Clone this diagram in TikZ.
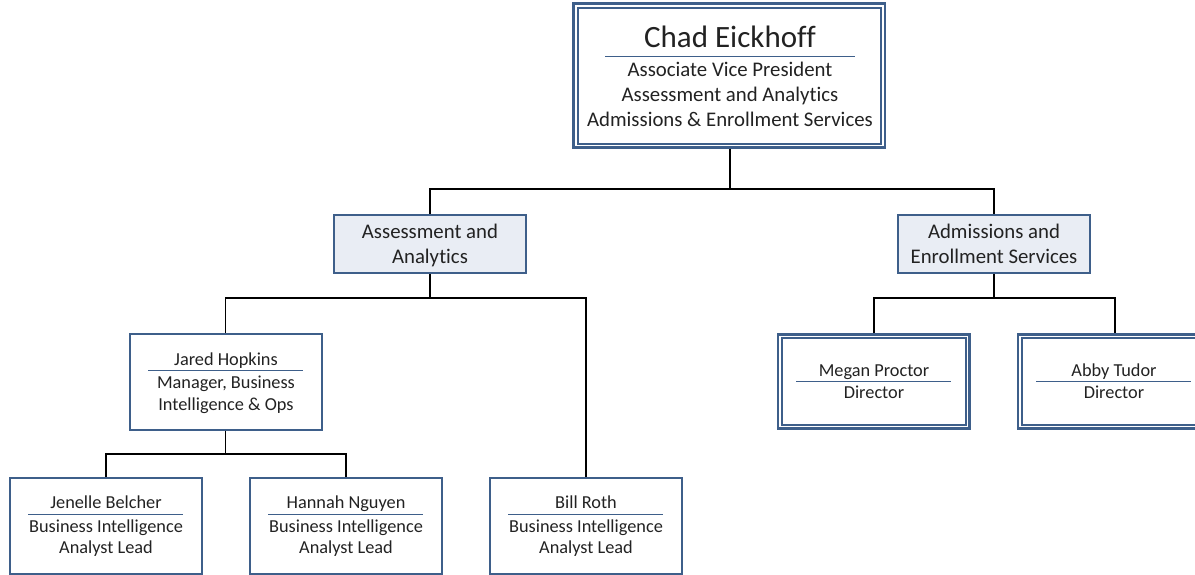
\documentclass[tikz,border=0pt]{standalone}
\usepackage{fontspec}
\setmainfont[Ligatures=NoCommon]{Carlito}
\definecolor{bord}{HTML}{3E5F8A}
\definecolor{boxfill}{HTML}{E9EDF4}
\definecolor{txt}{HTML}{222222}
\begin{document}
\begin{tikzpicture}[x=1pt,y=-1pt,
  sbox/.style={draw=bord,line width=2pt,rectangle,inner sep=0pt,minimum width=192pt,minimum height=96pt},
  obox/.style={draw=bord,line width=2.6pt,rectangle,inner sep=0pt},
  ibox/.style={draw=bord,line width=2pt},
  unitbox/.style={draw=bord,fill=boxfill,line width=2pt,rectangle,inner sep=0pt,minimum width=192pt,minimum height=58pt},
  conn/.style={draw=black,line width=1.6pt},
  uline/.style={draw=bord,line width=1.5pt},
  big/.style={font=\fontsize{31}{34}\selectfont,text=txt,inner sep=0pt,anchor=base},
  mid/.style={font=\fontsize{20.8}{24}\selectfont,text=txt,inner sep=0pt,anchor=base},
  sml/.style={font=\fontsize{18.3}{21}\selectfont,text=txt,inner sep=0pt,anchor=base}
]
\useasboundingbox (0,0) rectangle (1195,574);
% boxes
\node[obox,minimum width=311.5pt,minimum height=144pt] (top) at (729.25,75.5) {};
\draw[ibox] ([shift={(5.5,5.5)}]top.north west) rectangle ([shift={(-5,-4.5)}]top.south east);
\node[unitbox] (aa) at (430,244) {};
\node[unitbox] (aes) at (994,244) {};
\node[sbox] (jh) at (225.5,381.5) {};
\node[obox,minimum width=191.5pt,minimum height=94pt] (mp) at (873.75,381.5) {};
\draw[ibox] ([shift={(5,5)}]mp.north west) rectangle ([shift={(-5,-4.5)}]mp.south east);
\node[obox,minimum width=191.5pt,minimum height=94pt] (at) at (1113.75,381.5) {};
\draw[ibox] ([shift={(5,5)}]at.north west) rectangle ([shift={(-5,-4.5)}]at.south east);
\node[sbox] (jb) at (106,525.5) {};
\node[sbox] (hn) at (346,525.5) {};
\node[sbox] (br) at (586,525.5) {};
% top text
\node[big] (t1) at (730,47) {Chad Eickhoff};
\draw[uline] (605,56.5) coordinate (u0a) -- (855,56.5) coordinate (u0b);
\node[mid] (t2) at (730,76) {Associate Vice President};
\node[mid] (t3) at (730,101) {Assessment and Analytics};
\node[mid] (t4) at (730,126) {Admissions \& Enrollment Services};
% units
\node[mid] (aa1) at (430,238) {Assessment and};
\node[mid] (aa2) at (430,263) {Analytics};
\node[mid] (ae1) at (994,238) {Admissions and};
\node[mid] (ae2) at (994,263) {Enrollment Services};
% Jared
\node[sml] (jh1) at (226,365) {Jared Hopkins};
\draw[uline] (148,370.5) coordinate (u1a) -- (303,370.5) coordinate (u1b);
\node[sml] (jh2) at (226,388) {Manager, Business};
\node[sml] (jh3) at (226,410.5) {Intelligence \& Ops};
% Megan, Abby
\node[sml] (mp1) at (874,376.5) {Megan Proctor};
\draw[uline] (796,381.5) coordinate (u2a) -- (951,381.5) coordinate (u2b);
\node[sml] (mp2) at (874,398.5) {Director};
\node[sml] (at1) at (1114,376.5) {Abby Tudor};
\draw[uline] (1036,381.5) coordinate (u3a) -- (1191,381.5) coordinate (u3b);
\node[sml] (at2) at (1114,398.5) {Director};
% bottom
\node[sml] (jb1) at (106,508.5) {Jenelle Belcher};
\draw[uline] (28,514.5) coordinate (u4a) -- (183,514.5) coordinate (u4b);
\node[sml] (jb2) at (106,532) {Business Intelligence};
\node[sml] (jb3) at (106,553.5) {Analyst Lead};
\node[sml] (hn1) at (346,508.5) {Hannah Nguyen};
\draw[uline] (268,514.5) coordinate (u5a) -- (423,514.5) coordinate (u5b);
\node[sml] (hn2) at (346,532) {Business Intelligence};
\node[sml] (hn3) at (346,553.5) {Analyst Lead};
\node[sml] (br1) at (586,508.5) {Bill Roth};
\draw[uline] (508,514.5) coordinate (u6a) -- (663,514.5) coordinate (u6b);
\node[sml] (br2) at (586,532) {Business Intelligence};
\node[sml] (br3) at (586,553.5) {Analyst Lead};
% connectors
\coordinate (j0) at (730,189);
\coordinate (j1) at (430,298);
\coordinate (j2) at (994,298);
\coordinate (j3) at (225.5,454);
\draw[conn] (top.south -| j0) -- (j0);
\draw[conn] (j0) -| (aa.north);
\draw[conn] (j0) -| (aes.north);
\draw[conn] (aa.south) -- (j1);
\draw[conn] (j1) -| (jh.north);
\draw[conn] (j1) -| (br.north);
\draw[conn] (jh.south) -- (j3);
\draw[conn] (j3) -| (jb.north);
\draw[conn] (j3) -| (hn.north);
\draw[conn] (aes.south) -- (j2);
\draw[conn] (j2) -| ([xshift=0.5pt]mp.north);
\draw[conn] (j2) -| ([xshift=1.5pt]at.north);
\end{tikzpicture}
\end{document}
